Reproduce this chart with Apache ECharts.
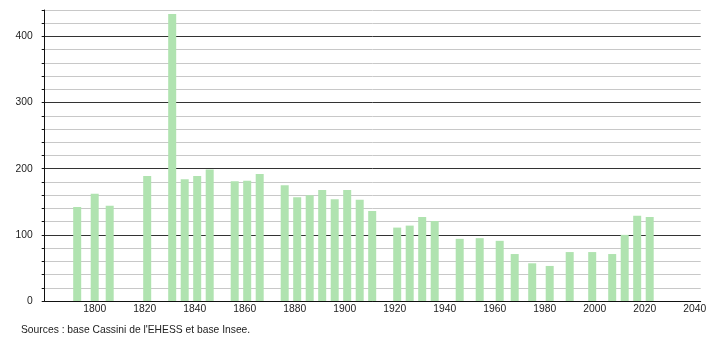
<!DOCTYPE html>
<html>
<head>
<meta charset="utf-8">
<script src="https://cdn.jsdelivr.net/npm/echarts@6/dist/echarts.min.js"></script>
<style>
html,body{margin:0;padding:0;background:#fff;}
#chart{width:710px;height:340px;}
</style>
</head>
<body>
<div id="chart"></div>
<script>
const years = [1793,1800,1806,1821,1831,1836,1841,1846,1856,1861,1866,1876,1881,1886,1891,1896,1901,1906,1911,1921,1926,1931,1936,1946,1954,1962,1968,1975,1982,1990,1999,2007,2012,2017,2022];
const population = [142,162,144,189,434,184,189,199,181,182,192,175,157,160,168,154,168,153,136,111,114,127,121,94,95,91,71,57,53,74,74,71,100,129,127];
const yTickLabels = [0,100,200,300,400];
const sourceText = "Sources : base Cassini de l'EHESS et base Insee.";

const chart = echarts.init(document.getElementById('chart'), null, {renderer:'canvas'});
const font = "'Liberation Sans', Arial, sans-serif";
const data = years.map((y,i)=>[y, population[i]]);
chart.setOption({
  animation:false,
  backgroundColor:'#fff',
  textStyle:{fontFamily:font},
  grid:{left:44.7, right:9.3, top:10, bottom:39, containLabel:false},
  xAxis:{
    type:'value', min:1780, max:2042.4, interval:20,
    axisLine:{show:true, lineStyle:{color:'#111', width:1}},
    axisTick:{show:false},
    splitLine:{show:false},
    axisLabel:{showMinLabel:false, showMaxLabel:false, color:'#222', fontSize:10.3, fontFamily:font, margin:3,
      formatter:v=>String(v)}
  },
  yAxis:{
    type:'value', min:0, max:440, interval:20,
    axisLine:{show:true, lineStyle:{color:'#111', width:1}},
    axisTick:{show:true, inside:false, length:3, lineStyle:{color:'#111'}},
    splitLine:{show:true, lineStyle:{color:['#333','#c8c8c8','#c8c8c8','#c8c8c8','#c8c8c8'], width:1}},
    axisLabel:{color:'#222', fontSize:10.3, fontFamily:font, margin:12,
      formatter:v=> yTickLabels.indexOf(v) >= 0 ? String(v) : ''}
  },
  series:[{
    type:'bar', data:data, barWidth:8,
    itemStyle:{color:'#b0e3b0'}
  }],
  graphic:[{
    type:'text', left:21, top:325,
    style:{text:sourceText, fill:'#222', font:"10.3px " + font}
  }]
});
</script>
</body>
</html>
